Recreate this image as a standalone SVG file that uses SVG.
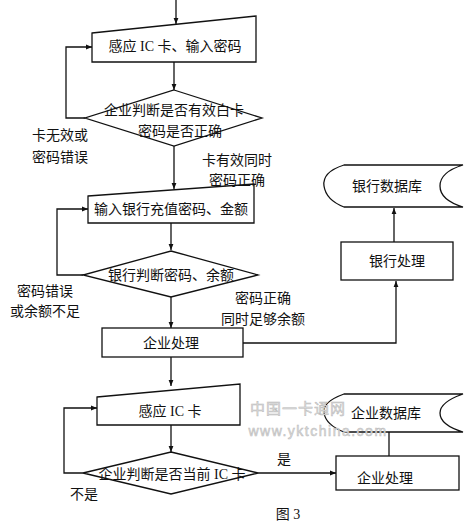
<svg xmlns="http://www.w3.org/2000/svg" width="471" height="526" viewBox="0 0 471 526">
<defs>
<marker id="ah" viewBox="0 0 10 10" refX="10" refY="5" markerWidth="6" markerHeight="6" orient="auto" markerUnits="userSpaceOnUse">
<path d="M0,1 L10,5 L0,9 Z" fill="#111"/>
</marker>
</defs>
<style>
.s{fill:#fff;stroke:#111;stroke-width:1.3}
.c{fill:none;stroke:#111;stroke-width:1.3}
.t{font-family:"Liberation Serif","Noto Sans CJK SC",serif;font-size:14px;fill:#111;text-anchor:middle;dominant-baseline:central}
.w{font-family:"Liberation Sans","Noto Sans CJK SC",sans-serif;fill:#ddd;stroke:#bbb;stroke-width:0.5;text-anchor:middle;dominant-baseline:central}
</style>
<rect width="471" height="526" fill="#fff"/>
<g id="connectors">
<line class="c" x1="176" y1="0" x2="176" y2="24" marker-end="url(#ah)"/>
<line class="c" x1="174" y1="62" x2="174" y2="90" marker-end="url(#ah)"/>
<polyline class="c" points="85,118 66,118 66,47 92,47" marker-end="url(#ah)"/>
<line class="c" x1="174" y1="146" x2="174" y2="189" marker-end="url(#ah)"/>
<line class="c" x1="171" y1="223" x2="171" y2="250" marker-end="url(#ah)"/>
<polyline class="c" points="83,275 57,275 57,209 88,209" marker-end="url(#ah)"/>
<line class="c" x1="171" y1="297" x2="171" y2="328" marker-end="url(#ah)"/>
<polyline class="c" points="243,343 396,343 396,281" marker-end="url(#ah)"/>
<line class="c" x1="394" y1="242" x2="394" y2="208" marker-end="url(#ah)"/>
<line class="c" x1="171" y1="357" x2="171" y2="386" marker-end="url(#ah)"/>
<polyline class="c" points="83,473 64,473 64,408 97,408" marker-end="url(#ah)"/>
<line class="c" x1="171" y1="425" x2="171" y2="452" marker-end="url(#ah)"/>
<line class="c" x1="258" y1="473" x2="336" y2="473" marker-end="url(#ah)"/>
<line class="c" x1="389" y1="456" x2="389" y2="432"/>
</g>
<g id="n1"><polygon class="s" points="92,33 256,16 256,62 92,62"/><text class="t" x="175" y="46">感应 IC 卡、输入密码</text></g>
<g id="d1"><polygon class="s" points="174,90 262,118 174,146 85,118"/><text class="t" x="174" y="110">企业判断是否有效白卡</text><text class="t" x="180" y="131">密码是否正确</text></g>
<g id="n2"><polygon class="s" points="88,196 254,184 254,223 88,223"/><text class="t" x="171" y="209">输入银行充值密码、金额</text></g>
<g id="d2"><polygon class="s" points="171,251 258,275 171,297 83,275"/><text class="t" x="171" y="275">银行判断密码、余额</text></g>
<g id="n3"><rect class="s" x="102" y="328" width="141" height="29"/><text class="t" x="171" y="343">企业处理</text></g>
<g id="bank"><rect class="s" x="341" y="242" width="112" height="38"/><text class="t" x="397" y="261">银行处理</text></g>
<g id="bankdb"><path class="s" d="M463,165 L344,165 Q322,172 324,186 Q326,200 344,207 L463,207 Q440,200 440,186 Q440,172 463,165 Z"/><text class="t" x="387" y="186">银行数据库</text></g>
<g id="n4"><polygon class="s" points="97,397 240,384 240,425 97,425"/><text class="t" x="170" y="411">感应 IC 卡</text></g>
<g id="d3"><polygon class="s" points="171,452 258,473 171,494 83,473"/><text class="t" x="172" y="474">企业判断是否当前 IC 卡</text></g>
<g id="ent"><rect class="s" x="336" y="456" width="123" height="34"/><text class="t" x="385" y="478">企业处理</text></g>
<g id="entdb"><path class="s" d="M463,394 L344,394 Q322,402 324,413 Q326,425 344,432 L463,432 Q440,425 440,413 Q440,402 463,394 Z"/><text class="t" x="386" y="413">企业数据库</text></g>
<g id="labels">
<text class="t" x="60" y="135">卡无效或</text>
<text class="t" x="60" y="157">密码错误</text>
<text class="t" x="237" y="160">卡有效同时</text>
<text class="t" x="237" y="180">密码正确</text>
<text class="t" x="45" y="291">密码错误</text>
<text class="t" x="45" y="311">或余额不足</text>
<text class="t" x="263" y="298">密码正确</text>
<text class="t" x="263" y="319">同时足够余额</text>
<text class="t" x="284" y="459">是</text>
<text class="t" x="84" y="494">不是</text>
<text class="t" x="288" y="514">图 3</text>
</g>
<g id="watermark">
<text class="w" x="298" y="408" font-size="15" letter-spacing="1">中国一卡通网</text>
<text class="w" x="318" y="431" font-size="14" letter-spacing="1.5">www.yktchina.com</text>
</g>
</svg>
